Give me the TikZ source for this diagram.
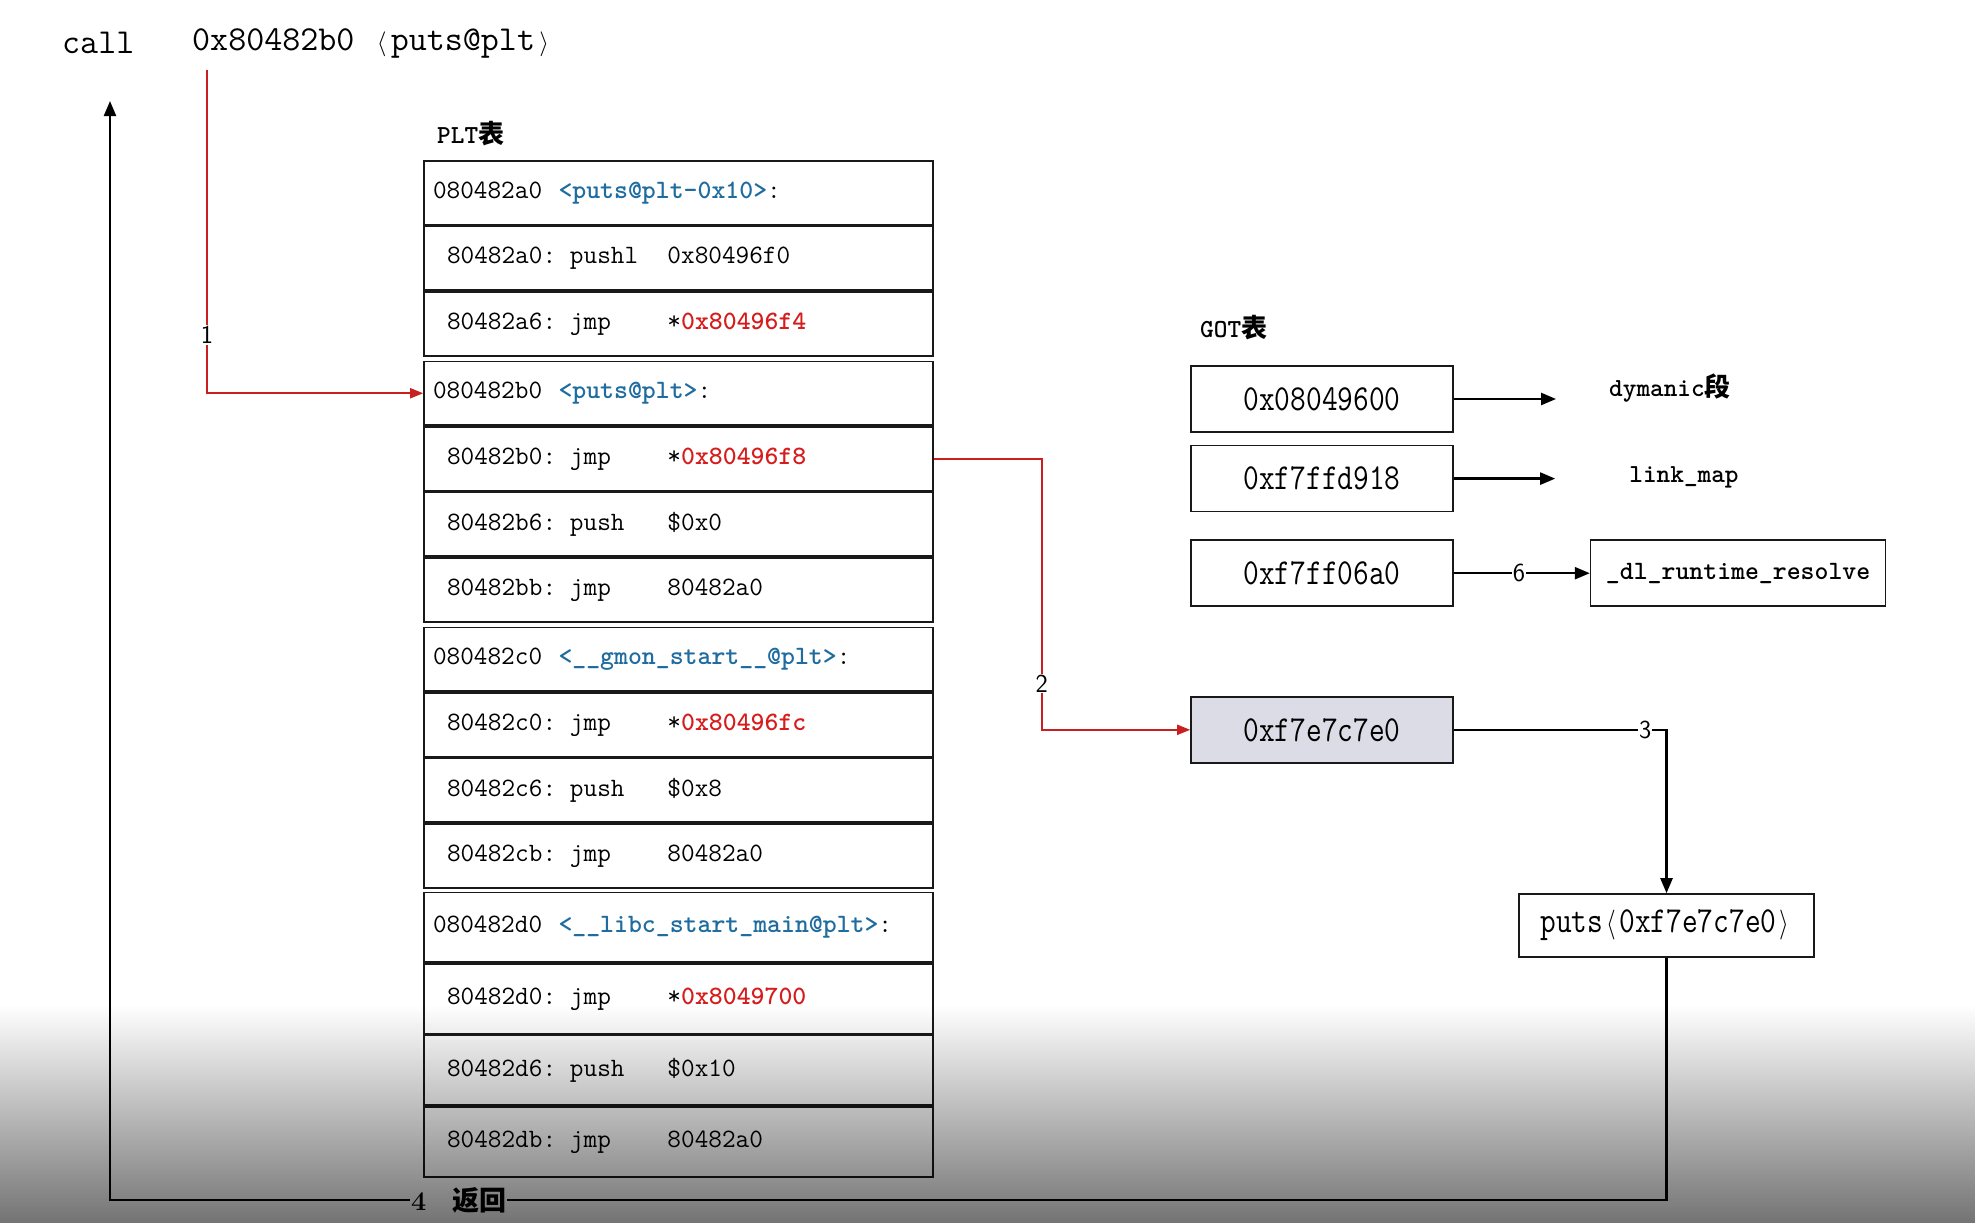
\documentclass[tikz,border=0pt]{standalone}
\usepackage{fontspec}
\usepackage{xcolor}
\usepackage{graphicx}
\usetikzlibrary{arrows.meta, positioning, fadings}
\newfontfamily\cjk{Noto Sans CJK SC}
\definecolor{addrred}{RGB}{214,28,28}
\definecolor{linkred}{RGB}{200,32,32}
\definecolor{symblue}{RGB}{30,108,160}
\definecolor{gotfill}{RGB}{220,220,230}
\newcommand{\tabfont}{\fontsize{26.5}{30}\selectfont\ttfamily}
\newcommand{\gotfont}{\fontsize{30.5}{32}\selectfont\ttfamily}
\newcommand{\ins}[3]{\hspace*{14pt}\makebox[123pt][l]{#1}\makebox[97.5pt][l]{#2}#3}
\newcommand{\hdr}[2]{\makebox[125.5pt][l]{#1}{\color{symblue}\bfseries #2}:}
\newcommand{\reg}[1]{*{\color{addrred}\bfseries #1}}
\newcommand{\lch}{\makebox[0.525em]{$\langle$}}
\newcommand{\rch}{\makebox[0.525em]{$\rangle$}}
\newcommand{\tall}[1]{\scalebox{1}[1.2]{#1}}

\begin{document}
\begin{tikzpicture}[
  x=1pt, y=-1pt,
  plt/.style={draw=black!90, line width=1.6pt, minimum width=509pt,
              minimum height=63.9pt, text width=491pt, inner xsep=9pt,
              inner ysep=0pt, align=left, font=\tabfont},
  pltlow/.style={plt, minimum height=69.9pt},
  got/.style={draw=black!90, line width=1.6pt, minimum width=262pt,
              minimum height=66pt, font=\gotfont},
  heading/.style={inner sep=0pt, font=\fontsize{26}{26}\selectfont\ttfamily\bfseries},
  lbl/.style={fill=white, inner sep=1pt, font=\fontsize{26}{26}\selectfont\sffamily},
  arr/.style={-{Triangle[length=15pt, width=12pt]}, line width=2.4pt},
  redarr/.style={-{Triangle[length=13pt, width=10pt]}, line width=1.8pt, draw=linkred},
]
  \fill[white] (0,0) rectangle (1985,1223);
  \useasboundingbox (0,0) rectangle (1985,1223);

  \node[anchor=west, inner sep=0pt, font=\fontsize{35}{36}\selectfont\ttfamily] (callkw)
    at (62,43) {call};
  \node[anchor=west, inner sep=0pt, font=\fontsize{35}{36}\selectfont\ttfamily] (calltgt)
    at (192,43) {0x80482b0 \lch puts@plt\rch};
  \coordinate (c1) at (207,70);

  \node[heading, anchor=west] (plthead) at (437,134) {PLT{\cjk 表}};
  \node[plt] (r1) at (678.5,192.75) {\hdr{080482a0}{<puts@plt-0x10>}};
  \node[plt, below=0pt of r1] (r2) {\ins{80482a0:}{pushl}{0x80496f0}};
  \node[plt, below=0pt of r2] (r3) {\ins{80482a6:}{jmp}{\reg{0x80496f4}}};
  \node[plt, below=4pt of r3] (r4) {\hdr{080482b0}{<puts@plt>}};
  \node[plt, below=0pt of r4] (r5) {\ins{80482b0:}{jmp}{\reg{0x80496f8}}};
  \node[plt, below=0pt of r5] (r6) {\ins{80482b6:}{push}{\$0x0}};
  \node[plt, below=0pt of r6] (r7) {\ins{80482bb:}{jmp}{80482a0}};
  \node[plt, below=4pt of r7] (r8) {\hdr{080482c0}{<\_\_gmon\_start\_\_@plt>}};
  \node[plt, below=0pt of r8] (r9) {\ins{80482c0:}{jmp}{\reg{0x80496fc}}};
  \node[plt, below=0pt of r9] (r10) {\ins{80482c6:}{push}{\$0x8}};
  \node[plt, below=0pt of r10] (r11) {\ins{80482cb:}{jmp}{80482a0}};
  \node[pltlow, below=3pt of r11] (r12) {\hdr{080482d0}{<\_\_libc\_start\_main@plt>}};
  \node[pltlow, below=0pt of r12] (r13) {\ins{80482d0:}{jmp}{\reg{0x8049700}}};
  \node[pltlow, below=0pt of r13] (r14) {\ins{80482d6:}{push}{\$0x10}};
  \node[pltlow, below=0pt of r14] (r15) {\ins{80482db:}{jmp}{80482a0}};

  \node[heading, anchor=west] (gothead) at (1200,328) {GOT{\cjk 表}};
  \node[got] (got0) at (1322,399) {\tall{0x08049600}};
  \node[got, below=12pt of got0] (got1) {\tall{0xf7ffd918}};
  \node[got, below=27pt of got1] (got2) {\tall{0xf7ff06a0}};
  \node[got, below=89pt of got2, fill=gotfill] (got3) {\tall{0xf7e7c7e0}};

  \node[heading] (dyn) at (1670,388) {dymanic{\cjk 段}};
  \node[heading] (lmap) at (1684,477) {link\_map};
  \node[got, minimum width=295pt, font=\tabfont\bfseries, right=136pt of got2] (dl)
    {\_dl\_runtime\_resolve};
  \node[got, minimum width=295pt, minimum height=63pt] (puts) at (1666.5,925.5)
    {\tall{puts\lch 0xf7e7c7e0\rch}};
  \coordinate (retc) at (110,1200);
  \coordinate (ret) at (110,101);
  \coordinate (bend2) at ([xshift=108pt]r5.east);

  \draw[arr, shorten >=53pt] (got0.east) -- (got0.east -| dyn.west);
  \draw[arr, shorten >=74pt] (got1.east) -- (got1.east -| lmap.west);
  \draw[arr] (got2) -- node[lbl, pos=0.48] {6} (dl);
  \draw[arr] (got3.east) -| node[lbl, pos=0.45] {3} (puts.north);
  \draw[arr] (puts.south) |- node[lbl, pos=0.888, font=\fontsize{27}{27}\selectfont\bfseries]
    {4\hspace{26pt}{\cjk 返回}} (retc) -- (ret);

  \draw[redarr] (c1) |- node[lbl, pos=0.41] {1} (r4.west);
  \draw[redarr] (r5.east) -- (bend2) |- node[lbl, pos=0.415] {2} (got3.west);

  \fill[black, path fading=north, fill opacity=0.55] (0,1005) rectangle (1985,1223);
\end{tikzpicture}
\end{document}
